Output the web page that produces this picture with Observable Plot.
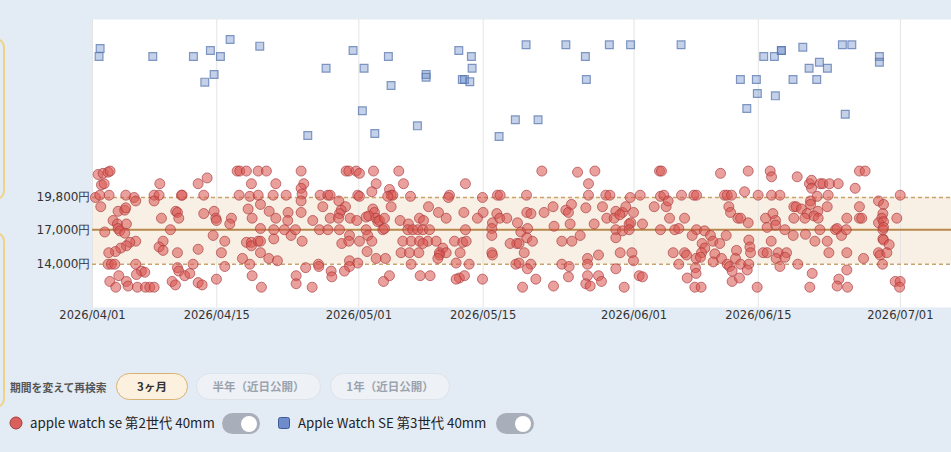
<!DOCTYPE html>
<html><head><meta charset="utf-8">
<script src="https://cdn.jsdelivr.net/npm/d3@7"></script>
<script src="https://cdn.jsdelivr.net/npm/@observablehq/plot@0.6"></script>
<style>
html,body{margin:0;padding:0;}
body{width:951px;height:452px;background:#e3ebf4;position:relative;overflow:hidden;font-family:"Noto Sans CJK JP","Noto Sans",sans-serif;}
#chart{position:absolute;left:0;top:0;}
.card{position:absolute;left:-120px;width:121px;border:2px solid #f0d284;border-radius:9px;}
.lbl{position:absolute;left:10px;top:378px;font-size:10.8px;font-weight:700;color:#555;line-height:18px;}
.btn{position:absolute;top:373px;height:25px;border-radius:14px;font-size:11.5px;font-weight:700;line-height:25px;text-align:center;}
.leg{position:absolute;top:413px;font-size:13.3px;color:#222;line-height:20px;white-space:nowrap;}
.tog{position:absolute;top:413px;width:38px;height:21px;border-radius:11px;background:#a9aebb;}
.tog::after{content:"";position:absolute;right:3px;top:2.5px;width:16px;height:16px;border-radius:50%;background:#fff;}
</style></head>
<body>
<div class="card" style="top:38px;height:158px;"></div>
<div class="card" style="top:232px;height:172px;"></div>
<div id="chart"></div>
<div class="lbl">期間を変えて再検索</div>
<div class="btn" style="left:116px;width:70px;background:#fcf1de;border:1px solid #d9b272;color:#333;">3ヶ月</div>
<div class="btn" style="left:196px;width:123px;background:#eef1f6;border:1px solid #dde3ea;color:#9aa2ad;">半年（近日公開）</div>
<div class="btn" style="left:330px;width:118px;background:#eef1f6;border:1px solid #dde3ea;color:#9aa2ad;">1年（近日公開）</div>
<svg style="position:absolute;left:9px;top:416px" width="14" height="14"><circle cx="7" cy="7" r="6" fill="#d9605c" stroke="#a33a3a" stroke-width="1"/></svg>
<div class="leg" style="left:30px;">apple watch se 第2世代 40mm</div>
<div class="tog" style="left:222px;"></div>
<svg style="position:absolute;left:278px;top:417px" width="12" height="12"><rect x="0.5" y="0.5" width="11" height="11" rx="2" fill="#6d8cc9" stroke="#3d5a96" stroke-width="1"/></svg>
<div class="leg" style="left:298px;">Apple Watch SE 第3世代 40mm</div>
<div class="tog" style="left:496px;"></div>
<script>
// day offset from 2026/04/01, price in yen
const gen2 = [
[0.63,21800],[1.19,21900],[1.76,22000],[1.98,22100],[1.01,20900],[1.31,21000],[7.58,21000],[11.90,21000],[12.91,21500],[16.29,22100],[16.59,22100],[17.34,22100],[18.66,22100],[19.59,22100],[17.90,21000],[20.65,21000],
[0.33,19800],[0.82,20000],[1.87,20000],[3.75,20000],[4.69,19800],[4.87,19500],[6.94,20000],[7.50,20000],[6.94,19500],[10.02,20000],[10.1,20000],[12.53,20000],[16.51,20000],[17.72,19900],[18.66,20000],[18.92,19200],[20.35,20000],
[0.93,19000],[2.88,18600],[3.63,18700],[3.75,18900],[9.38,18600],[9.57,18500],[12.53,18400],[13.70,18600],[17.53,18800],[19.90,18600],
[2.32,17800],[2.81,17500],[3.82,17500],[7.77,18000],[9.72,18000],[13.89,18000],[13.96,17800],[15.65,18000],[15.46,17500],[17.98,18000],[20.65,18000],
[1.38,16800],[2.88,17100],[3.07,16900],[3.63,16700],[8.78,17000],[13.59,16500],[18.92,17100],[20.42,17000],
[4.87,16000],[4.20,15900],[3.82,15600],[3.18,15400],[2.58,15100],[1.83,15000],[7.95,16000],[7.50,15500],[7.95,15200],[9.57,15000],[11.90,15300],[14.90,16000],[14.52,15000],[17.34,15900],[17.90,15900],[17.90,15600],[18.66,16000],[18.92,16000],[18.92,15000],[20.42,16200],
[1.76,14000],[2.13,14000],[2.51,14000],[4.87,14000],[16.89,14500],[17.72,14000],[19.86,14500],[20.83,14300],[11.33,14000],[14.90,13800],
[5.51,13400],[5.89,13300],[4.95,13100],[9.57,13700],[9.72,13400],[10.39,13000],[10.96,13200],[2.96,13000],[17.98,13000],
[1.95,12500],[2.62,12000],[3.82,12500],[4.01,12100],[5.06,12000],[5.96,12000],[6.45,12000],[6.94,12000],[8.97,12500],[9.34,12200],[11.90,12400],[12.35,12200],[13.96,12700],[19.03,12000],
[23.50,22100],[28.57,22100],[28.87,22100],[29.70,22100],[30.07,21900],[31.65,22100],[34.50,22100],
[23.80,21000],[31.95,21000],[35.03,21000],[42.01,21000],
[23.50,20600],[23.61,20100],[21.81,20000],[25.64,20000],[26.51,20000],[26.77,20000],[29.88,20000],[30.07,19900],[31.46,20300],[33.45,20500],[33.64,20000],[33.83,20000],[33.26,19900],[35.82,19900],[40.21,20000],[40.09,19800],
[23.50,19500],[25.94,19000],[27.75,19500],[28.50,19000],[28.01,18700],[27.82,18400],[22.03,18500],[23.50,18500],[31.58,18800],[31.76,18500],[33.64,19000],[37.85,19000],[38.97,18500],[41.83,18500],
[21.99,17800],[24.81,17800],[26.77,18000],[27.71,18000],[29.02,18000],[29.77,17800],[30.82,18100],[31.12,18200],[31.95,18000],[32.14,17700],[32.32,17800],[32.89,18000],[34.65,17800],[35.59,17500],[36.83,18000],[37.29,17800],[39.84,18000],
[21.62,17000],[22.37,16500],[22.86,17000],[25.57,17000],[26.51,17000],[27.82,17000],[28.95,16500],[30.82,17000],[32.70,17000],[32.89,17100],[35.52,17000],[36.08,17000],[36.64,17000],[37.21,17000],[37.96,17000],[42.01,17000],
[23.61,16000],[28.08,15800],[28.87,16000],[30.07,16000],[31.01,16500],[31.46,16000],[34.95,16000],[35.89,16000],[36.83,16000],[37.77,16000],[38.71,16000],[40.78,16000],[41.71,15900],[42.09,16000],[39.46,15400],[37.21,15800],
[30.93,15100],[31.95,14500],[33.00,14500],[34.76,15000],[35.70,15000],[36.76,15000],[39.08,15000],[39.84,15000],[39.08,14800],[38.90,14500],[41.41,15000],
[28.95,14300],[29.88,14100],[35.89,14000],[40.96,14100],[24.01,13700],[25.45,14000],[25.49,13800],[28.95,13800],
[26.88,13400],[26.96,12900],[28.38,13400],[33.45,13000],[36.91,13000],[38.03,13000],[22.94,13000],[41.33,12800],[41.90,13000],
[22.94,12300],[24.74,12000],[32.78,12500],[40.96,12700],
[50.61,22100],[54.64,22000],[56.59,22100],[55.87,21000],
[43.93,19800],[45.62,20000],[45.92,20000],[48.89,20000],[55.87,20000],[57.82,20000],[58.28,20000],[60.57,19800],[61.69,20000],
[44.00,18500],[45.54,18400],[48.92,18500],[49.39,18400],[50.87,18500],[51.88,19000],[53.32,18700],[53.61,18500],[53.95,19200],[55.57,18900],[57.44,19000],[58.95,18600],[59.70,18500],[60.07,19000],[60.94,18500],[63.27,19000],
[43.36,18000],[45.05,17600],[45.88,18000],[46.67,18000],[47.87,17600],[53.80,17500],[56.51,17500],[57.93,18000],[58.76,18000],[59.40,18300],[60.45,17500],[60.64,17600],[61.95,17500],
[44.98,17100],[44.98,16500],[48.25,16800],[49.01,17100],[51.99,17300],[58.95,17000],[59.70,16900],[60.45,17000],[54.93,16500],[48.92,16300],[58.95,16300],
[47.04,15800],[47.79,15800],[48.05,15800],[49.56,16000],[48.63,15000],[52.87,16000],[54.00,16000],[44.98,15000],[45.05,14800],[57.00,14800],[59.44,15000],[60.76,15000],[60.94,14300],
[42.43,14000],[47.68,14000],[48.05,14100],[49.37,14000],[48.99,13600],[52.87,14000],[53.69,13800],[55.76,14500],[55.76,14000],[58.95,13600],
[43.93,12700],[49.94,12700],[53.61,12900],[55.76,13000],[57.00,13000],[57.33,12500],[55.57,12300],[56.06,12100],[61.58,13000],[61.95,12900],[48.44,12000],[51.93,12100],[59.89,12000],
[63.87,22100],[64.09,22100],[70.74,21900],[73.86,22100],[76.34,22100],[76.49,21600],[79.38,21600],[80.76,21000],[80.99,21300],[81.99,21000],[82.27,21000],[83.02,21000],[84.00,21000],
[63.98,19900],[64.36,20000],[66.35,20000],[67.74,20000],[68.04,20000],[71.19,20000],[71.49,20000],[71.98,20000],[73.45,20300],[74.98,20000],[76.49,20000],[77.43,20000],[81.00,20600],[81.63,19900],[82.87,20000],
[64.62,19000],[64.84,19500],[71.68,19000],[71.87,18500],[79.00,19000],[79.26,19000],[79.86,18800],[80.88,19500],[80.88,19200],[81.70,18600],[82.76,19000],[80.50,18400],[81.26,18200],[76.64,18400],
[65.00,18000],[66.69,18000],[72.70,18000],[73.00,18000],[73.86,17600],[75.81,18000],[76.94,17800],[76.94,17400],[79.00,18000],[80.24,18000],[81.74,18000],
[63.98,17000],[65.59,17000],[66.04,17100],[68.04,17000],[68.94,16900],[69.61,16500],[67.55,16500],[71.38,16500],[75.99,17200],[77.99,17000],[78.93,16500],[80.31,16600],[81.93,17000],[83.70,17000],[83.88,17100],[84.37,16500],
[68.67,15800],[69.88,16000],[70.66,15800],[73.93,16100],[74.05,15500],[76.45,16000],[81.37,16000],[82.76,16000],[68.97,15400],[68.60,15000],[72.54,15200],[74.12,15000],[75.55,15000],[75.99,15000],[77.24,15000],[78.18,15000],[65.41,15000],[66.69,15000],[66.91,14800],[70.10,14900],[82.95,15000],
[67.99,14500],[68.48,14600],[69.92,14200],[70.85,14500],[71.49,14000],[72.43,14500],[73.00,14000],[73.93,14000],[71.76,13800],[66.04,14000],[67.92,13700],[77.01,14500],[77.99,14600],[77.43,13800],[79.45,14000],[72.05,13400],[73.75,13500],
[67.99,13200],[66.99,12800],[72.05,12500],[72.88,12800],[81.07,13200],[84.07,12700],[83.88,12100],[67.85,12000],[68.56,12000],[74.87,12000],[80.80,12000],
[86.39,22100],[87.03,22100],[85.91,20600],[90.98,20000],[88.54,19500],[89.10,19200],[86.39,19000],[84.97,18000],[86.39,18000],[86.65,18000],[90.60,18000],[89.03,18400],[88.91,18000],[88.54,17600],[89.10,17700],[84.90,17000],[89.03,17000],[89.10,17200],[89.03,16200],[89.10,16100],[89.74,15700],[84.97,15000],[86.85,14500],[88.54,15000],[88.72,14800],[89.48,15000],[88.99,14000],[84.97,13500],[90.42,12500],[90.98,12500],[90.91,12000],[85.05,12000]
];
const gen3 = [
[0.86,32760],[0.74,32060],[6.79,32060],[11.37,32060],[13.28,32580],[14.41,32060],[15.50,33540],[18.84,32960],[13.70,30500],[12.65,29830],[24.25,25190],[26.31,31040],[29.35,32580],[30.59,31040],[30.40,27340],[33.33,32060],[33.63,29540],[31.80,25370],[36.60,26030],[37.58,30500],[37.58,30260],[41.26,32580],[42.68,32060],[42.76,31040],[41.66,30060],[41.9,30060],[42.50,29860],[48.84,33080],[47.63,26560],[50.19,26560],[45.80,25100],[53.32,33080],[55.52,32060],[55.63,30060],[58.22,33080],[60.61,33080],[66.30,33080],[75.61,32060],[76.81,32060],[77.60,32580],[77.60,32580],[80.01,32870],[80.72,31040],[81.88,31560],[82.78,31040],[84.47,33080],[85.53,33080],[88.64,32060],[88.64,31560],[72.98,30060],[74.78,30060],[78.91,30060],[81.58,30060],[74.89,28840],[76.92,28640],[73.70,27540],[84.79,27040]
];
const bandLow = 14000, bandHigh = 19800, median = 17000;
const yTicks = [14000, 17000, 19800];
const xTickLabels = ["2026/04/01","2026/04/15","2026/05/01","2026/05/15","2026/06/01","2026/06/15","2026/07/01"];
const yDomain = [10235, 35278];
const dayDomain = [0, 96.76];

const start = Date.UTC(2026, 3, 1);
const toDate = d => new Date(start + d * 864e5);
const parse = s => { const [y,m,d] = s.split("/").map(Number); return new Date(Date.UTC(y, m-1, d)); };
const xTicks = xTickLabels.map(parse);
const fmt = d3.utcFormat("%Y/%m/%d");

const chart = Plot.plot({
  width: 951, height: 330,
  marginLeft: 92, marginRight: 0, marginTop: 19, marginBottom: 23,
  style: {fontFamily: "'DejaVu Sans', sans-serif", color: "#333", background: "transparent", overflow: "visible"},
  x: {type: "utc", domain: dayDomain.map(toDate)},
  y: {domain: yDomain},
  marks: [
    Plot.frame({fill: "white", stroke: null}),
    Plot.rect([{lo: bandLow, hi: bandHigh}], {y1: "lo", y2: "hi", fill: "#f8f0e4"}),
    Plot.gridX(xTicks, {stroke: "#e4e4e4", strokeOpacity: 1, strokeWidth: 1}),
    Plot.ruleY([bandLow, bandHigh], {stroke: "#caa36c", strokeWidth: 1.6, strokeDasharray: "4,3"}),
    Plot.ruleY([median], {stroke: "#b9884c", strokeWidth: 2}),
    Plot.axisX(xTicks, {tickSize: 0, tickPadding: 3, tickFormat: fmt, fontSize: 11.5, label: null, fill: "#333"}),
    Plot.axisY(yTicks, {tickSize: 0, tickPadding: 2, tickFormat: d => d3.format(",")(d) + "円", fontSize: 12, label: null, fill: "#333"}),
    Plot.dot(gen3, {x: d => toDate(d[0]), y: d => d[1], symbol: "square", r: 4.4, fill: "#6b8cc9", fillOpacity: 0.4, stroke: "#5a78b0", strokeOpacity: 0.75, strokeWidth: 1.2}),
    Plot.dot(gen2, {x: d => toDate(d[0]), y: d => d[1], r: 5, fill: "#d9534f", fillOpacity: 0.55, stroke: "#a8383a", strokeOpacity: 0.65, strokeWidth: 1})
  ]
});
document.getElementById("chart").appendChild(chart);
</script>
</body></html>
